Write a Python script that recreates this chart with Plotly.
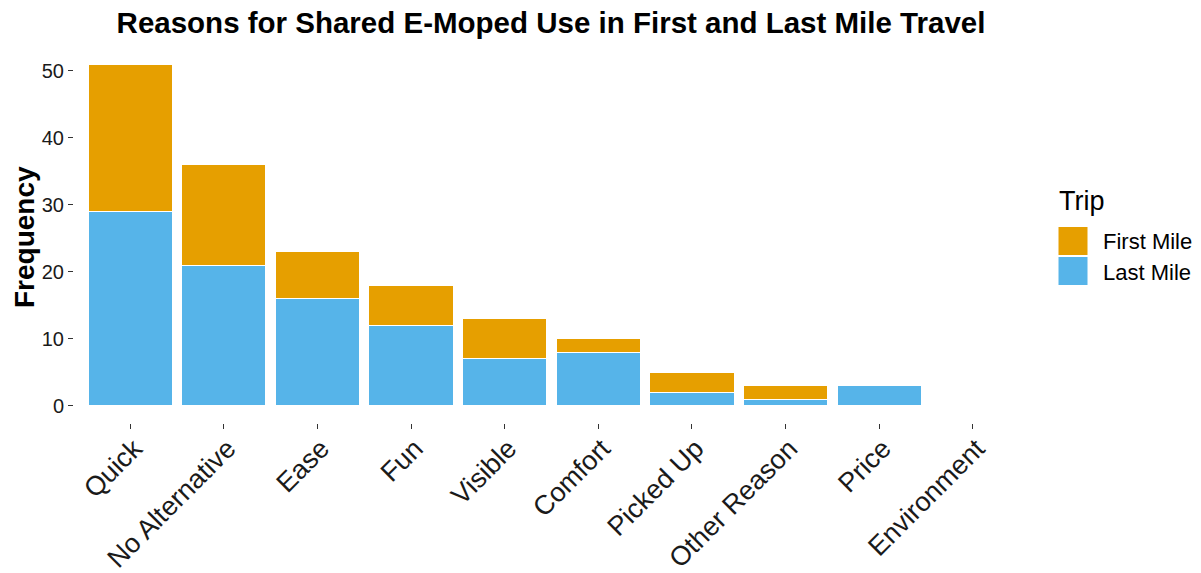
import plotly.graph_objects as go

categories = ["Quick", "No Alternative", "Ease", "Fun", "Visible", "Comfort",
              "Picked Up", "Other Reason", "Price", "Environment"]
last_mile = [29, 21, 16, 12, 7, 8, 2, 1, 3, 0]
first_mile = [22, 15, 7, 6, 6, 2, 3, 2, 0, 0]
y_ticks = [0, 10, 20, 30, 40, 50]

FONT = "Liberation Sans, Arial, sans-serif"
ORANGE = "#E69F00"
BLUE = "#56B4E9"

W, H = 1201, 573
L, R, T, B = 74, 172, 47, 150
PW, PH = W - L - R, H - T - B


def px_x(x):
    return (x - L) / PW


def px_y(y):
    return (H - B - y) / PH


fig = go.Figure()
fig.add_trace(go.Bar(x=categories, y=last_mile, name="Last Mile",
                     marker=dict(color=BLUE, line=dict(color="white", width=1)),
                     width=0.9, showlegend=False))
fig.add_trace(go.Bar(x=categories, y=first_mile, name="First Mile",
                     marker=dict(color=ORANGE, line=dict(color="white", width=1)),
                     width=0.9, showlegend=False))

fig.update_layout(
    barmode="stack",
    width=W, height=H,
    margin=dict(l=L, r=R, t=T, b=B, autoexpand=False),
    paper_bgcolor="white", plot_bgcolor="white",
    font=dict(family=FONT, color="black"),
    title=dict(text="<b>Reasons for Shared E-Moped Use in First and Last Mile Travel</b>",
               x=551 / W, xanchor="center", y=1 - 23 / H, yanchor="middle",
               font=dict(size=29.5, color="black")),
    xaxis=dict(range=[-0.6, 9.6], tickangle=-45, showgrid=False, zeroline=False,
               showline=False, ticks="outside", ticklen=5, tickcolor="#333333",
               ticklabelstandoff=-7, ticklabelshift=4,
               automargin=False, tickfont=dict(size=27, color="#1a1a1a")),
    yaxis=dict(range=[-2.55, 53.55], tickvals=y_ticks, showgrid=False, zeroline=False,
               showline=False, ticks="outside", ticklen=5, tickcolor="#333333",
               automargin=False, tickfont=dict(size=20, color="#1a1a1a")),
)

# Y axis title
fig.add_annotation(xref="paper", yref="paper", x=px_x(25), y=px_y(237),
                   text="<b>Frequency</b>", textangle=-90, showarrow=False,
                   xanchor="center", yanchor="middle",
                   font=dict(size=28, color="black"))

# Custom legend (ggplot style)
fig.add_annotation(xref="paper", yref="paper", x=px_x(1057), y=px_y(201),
                   text="Trip", showarrow=False,
                   xanchor="left", yanchor="middle", font=dict(size=27, color="black"))
legend_items = [("First Mile", ORANGE, 241), ("Last Mile", BLUE, 271)]
for label, color, yc in legend_items:
    fig.add_shape(type="rect", xref="paper", yref="paper",
                  x0=px_x(1058), x1=px_x(1088),
                  y0=px_y(yc + 14.5), y1=px_y(yc - 14.5),
                  fillcolor=color, line=dict(color="white", width=1))
    fig.add_annotation(xref="paper", yref="paper", x=px_x(1101),
                       y=px_y(yc + 1), text=label, showarrow=False,
                       xanchor="left", yanchor="middle",
                       font=dict(size=22, color="black"))

fig.write_html("out.html", config={"displayModeBar": False},
               post_script="document.body.style.margin='0';document.body.style.overflow='hidden';")
